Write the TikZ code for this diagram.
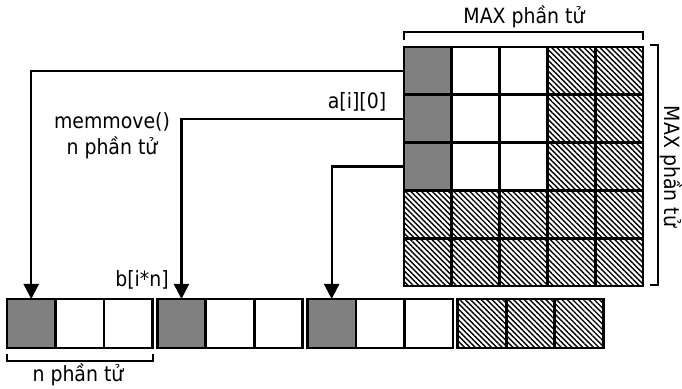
\documentclass[tikz,border=0pt]{standalone}
\usepackage{fontspec}
\setmainfont{DejaVu Sans}[FakeStretch=0.9]
\usetikzlibrary{patterns.meta,arrows.meta}
\definecolor{cellgray}{RGB}{128,128,128}
\begin{document}
\begin{tikzpicture}[x=1pt,y=1pt,
  font=\fontsize{21}{25}\selectfont,
  gcell/.style={draw=black,line width=2.8pt,inner sep=0pt,outer sep=0pt,minimum width=47.8pt,minimum height=47.8pt},
  bcell/.style={draw=black,line width=2.8pt,inner sep=0pt,outer sep=0pt,minimum width=48.5pt,minimum height=49pt},
  gry/.style={fill=cellgray},
  wht/.style={fill=white},
  hat/.style={pattern={Lines[angle=-45,distance=3.8pt,line width=1.4pt]}},
  conn/.style={draw=black,line width=2.2pt,-{Triangle[length=15pt,width=15pt]}},
  brk/.style={draw=black,line width=1.6pt},
  lbl/.style={inner sep=0pt,text=black}]
\useasboundingbox (0,0) rectangle (682,388);
% big grid
\foreach \r in {0,...,4}{
  \foreach \c in {0,...,4}{
    \pgfmathsetmacro{\cx}{404+47.8*(\c+0.5)}
    \pgfmathsetmacro{\cy}{341-47.8*(\r+0.5)}
    \ifnum\r<3
      \ifnum\c=0
        \node[gcell,gry] (g\r\c) at (\cx,\cy) {};
      \else\ifnum\c<3
        \node[gcell,wht] (g\r\c) at (\cx,\cy) {};
      \else
        \node[gcell,hat] (g\r\c) at (\cx,\cy) {};
      \fi\fi
    \else
      \node[gcell,hat] (g\r\c) at (\cx,\cy) {};
    \fi
  }
}
% bottom array
\foreach \k in {0,...,3}{
  \foreach \j in {0,1,2}{
    \pgfmathsetmacro{\bx}{7+150.2*\k+48.5*(\j+0.5)}
    \ifnum\k=3
      \node[bcell,hat] (b\k\j) at (\bx,64.5) {};
    \else\ifnum\j=0
      \node[bcell,gry] (b\k\j) at (\bx,64.5) {};
    \else
      \node[bcell,wht] (b\k\j) at (\bx,64.5) {};
    \fi\fi
  }
}
% connectors
\draw[conn] (g00.west) -| (b00.north);
\draw[conn] (g10.west) -| (b10.north);
\draw[conn] (g20.west) -| (b20.north);
% brackets
\draw[brk] (404,348) -- (404,356) -- (643,356) -- (643,348);
\draw[brk] (650,343) -- (658,343) -- (658,103) -- (650,103);
\draw[brk] (7,34) -- (7,27) -- (153,27) -- (153,34);
% labels
\node[lbl] (ltop) at (524,371) {MAX phần tử};
\node[lbl,rotate=-90] (lright) at (671,221.5) {MAX phần tử};
\node[lbl] (la) at (357,286) {a[i][0]};
\node[lbl] (lm1) at (112,266) {memmove()};
\node[lbl] (lm2) at (112,240) {n phần tử};
\node[lbl] (lb) at (142,108) {b[i*n]};
\node[lbl] (ln) at (78,13) {n phần tử};
\end{tikzpicture}
\end{document}
